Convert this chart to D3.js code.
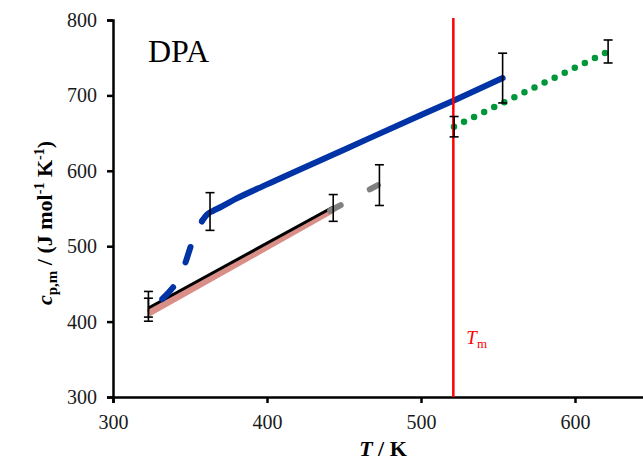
<!DOCTYPE html>
<html>
<head>
<meta charset="utf-8">
<script src="https://cdn.jsdelivr.net/npm/d3@7"></script>
<style>
  body { margin: 0; background: #fff; }
  svg { display: block; font-family: "Liberation Serif", "Times New Roman", serif; }
</style>
</head>
<body>
<div id="chart"></div>
<script>
// values (T in K, cp in J/mol/K)
let xTicks = [300, 400, 500, 600];
let yTicks = [300, 400, 500, 600, 700, 800];
let Tm = 521;

let blueDashT = [332, 334, 338, 342, 345, 348, 351, 355, 358];
let blueDashCp = [430, 434, 443, 454, 467, 484, 503, 521, 534];
let blueT = [358, 361, 365, 370, 380, 400, 450, 500, 521, 553];
let blueCp = [534, 542, 547, 552, 563, 582, 628, 674, 693, 723];

let blackT = [323, 443];
let blackCp = [418, 552];
let pinkT = [323, 443];
let pinkCp = [411, 549];
let greyT = [441, 472];
let greyCp = [547, 581];
let greenT = [521.4, 621.4];
let greenCp = [658.5, 758];

let errT = [323, 323, 363, 443, 473, 521.5, 553, 621.5];
let errLo = [406, 400.5, 521, 533, 554, 645, 690, 743];
let errHi = [440, 431, 571, 568.5, 608, 672, 756, 773.5];

let dimension = { width: 643, height: 462 };

let svg = d3.select("#chart")
    .append("svg")
    .attr("width", dimension.width)
    .attr("height", dimension.height);

let X = d3.scaleLinear().domain([300, 650]).range([113, 652]);
let Y = d3.scaleLinear().domain([300, 800]).range([397, 20]);

let zip = (a, b) => a.map((v, i) => [v, b[i]]);
let line = d3.line().x(d => X(d[0])).y(d => Y(d[1]));
let curve = d3.line().x(d => X(d[0])).y(d => Y(d[1])).curve(d3.curveMonotoneX);

// axes
let xAxis = d3.axisBottom(X).tickValues(xTicks).tickSize(6).tickPadding(12);
let yAxis = d3.axisLeft(Y).tickValues(yTicks).tickSize(6).tickPadding(10);

svg.append("g")
    .attr("class", "axis x-axis")
    .attr("transform", "translate(0," + Y(300) + ")")
    .call(xAxis);
svg.append("g")
    .attr("class", "axis y-axis")
    .attr("transform", "translate(" + X(300) + ",0)")
    .call(yAxis);

svg.selectAll(".axis path, .axis line")
    .attr("stroke", "#000")
    .attr("stroke-width", 2.5);
svg.selectAll(".axis text")
    .attr("font-family", "Liberation Serif")
    .attr("font-size", 20)
    .attr("fill", "#1a1a1a");

// pink (thick) then black
svg.append("path")
    .datum(zip(pinkT, pinkCp))
    .attr("d", line)
    .attr("fill", "none")
    .attr("stroke", "#d98f88")
    .attr("stroke-width", 7);
svg.append("path")
    .datum(zip(blackT, blackCp))
    .attr("d", line)
    .attr("fill", "none")
    .attr("stroke", "#000")
    .attr("stroke-width", 3);

// grey dashes
svg.append("path")
    .datum(zip(greyT, greyCp))
    .attr("d", line)
    .attr("fill", "none")
    .attr("stroke", "#808080")
    .attr("stroke-width", 6)
    .attr("stroke-linecap", "round")
    .attr("stroke-dasharray", "12,33");

// blue dashed rise and solid line
svg.append("path")
    .datum(zip(blueDashT, blueDashCp))
    .attr("d", curve)
    .attr("fill", "none")
    .attr("stroke", "#0033a6")
    .attr("stroke-width", 6)
    .attr("stroke-linecap", "round")
    .attr("stroke-dasharray", "16,28");
svg.append("path")
    .datum(zip(blueT, blueCp))
    .attr("d", curve)
    .attr("fill", "none")
    .attr("stroke", "#0033a6")
    .attr("stroke-width", 6)
    .attr("stroke-linecap", "round");

// green dotted
svg.append("path")
    .datum(zip(greenT, greenCp))
    .attr("d", line)
    .attr("fill", "none")
    .attr("stroke", "#00963a")
    .attr("stroke-width", 6.5)
    .attr("stroke-linecap", "round")
    .attr("stroke-dasharray", "0,11.2");

// melting temperature
svg.append("line")
    .attr("x1", X(Tm)).attr("x2", X(Tm))
    .attr("y1", Y(800) - 2).attr("y2", Y(300))
    .attr("stroke", "#ff0000")
    .attr("stroke-width", 2.5);

let tm = svg.append("text")
    .attr("x", X(Tm) + 13)
    .attr("y", 344)
    .attr("fill", "#ff0000")
    .attr("font-size", 19);
tm.append("tspan").attr("font-style", "italic").text("T");
tm.append("tspan").attr("font-size", 13).attr("dy", 4).text("m");

// error bars
let err = errT.map((t, i) => ({ t: t, lo: errLo[i], hi: errHi[i] }));
let eb = svg.selectAll(".err")
    .data(err)
    .enter()
    .append("g")
    .attr("class", "err")
    .attr("stroke", "#000")
    .attr("stroke-width", 1.6);
eb.append("line")
    .attr("x1", d => X(d.t)).attr("x2", d => X(d.t))
    .attr("y1", d => Y(d.lo)).attr("y2", d => Y(d.hi));
eb.append("line")
    .attr("x1", d => X(d.t) - 4.5).attr("x2", d => X(d.t) + 4.5)
    .attr("y1", d => Y(d.lo)).attr("y2", d => Y(d.lo));
eb.append("line")
    .attr("x1", d => X(d.t) - 4.5).attr("x2", d => X(d.t) + 4.5)
    .attr("y1", d => Y(d.hi)).attr("y2", d => Y(d.hi));

// titles
svg.append("text")
    .attr("x", 148)
    .attr("y", 62)
    .attr("font-size", 32)
    .attr("fill", "#000")
    .text("DPA");

let xl = svg.append("text")
    .attr("x", 383)
    .attr("y", 456)
    .attr("text-anchor", "middle")
    .attr("font-size", 22)
    .attr("font-weight", "bold");
xl.append("tspan").attr("font-style", "italic").text("T");
xl.append("tspan").text(" / K");

let yl = svg.append("text")
    .attr("transform", "translate(52,223) rotate(-90)")
    .attr("text-anchor", "middle")
    .attr("font-size", 22)
    .attr("font-weight", "bold");
yl.append("tspan").attr("font-style", "italic").text("c");
yl.append("tspan").attr("font-size", 15).attr("dy", 5).text("p,m");
yl.append("tspan").attr("dy", -5).text(" / (J mol");
yl.append("tspan").attr("font-size", 14).attr("dy", -8).text("-1");
yl.append("tspan").attr("dy", 8).text(" K");
yl.append("tspan").attr("font-size", 14).attr("dy", -8).text("-1");
yl.append("tspan").attr("dy", 8).text(")");
</script>
</body>
</html>
